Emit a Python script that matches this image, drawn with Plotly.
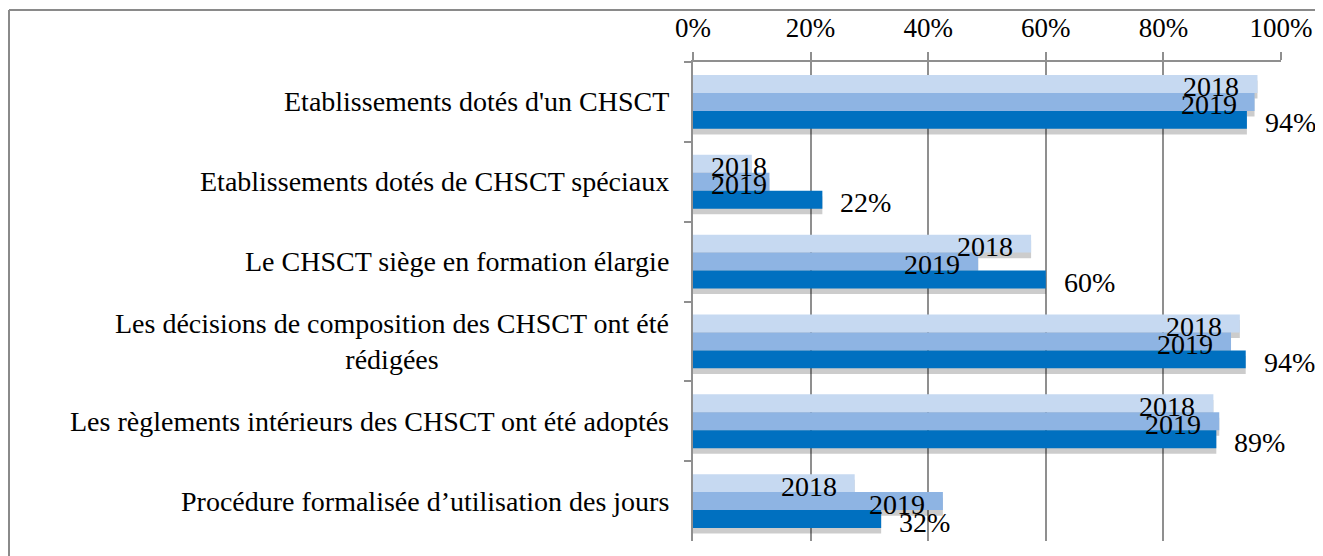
import plotly.graph_objects as go

categories = [
    "Etablissements dotés d'un CHSCT",
    "Etablissements dotés de CHSCT spéciaux",
    "Le CHSCT siège en formation élargie",
    "Les décisions de composition des CHSCT ont été<br>rédigées",
    "Les règlements intérieurs des CHSCT ont été adoptés",
    "Procédure formalisée d’utilisation des jours",
]
series_names = ["2018", "2019", "2020"]
values_2018 = [0.96, 0.10, 0.575, 0.93, 0.885, 0.275]
values_2019 = [0.955, 0.13, 0.485, 0.915, 0.895, 0.425]
values_2020 = [0.942, 0.22, 0.60, 0.94, 0.89, 0.32]
tick_vals = [0, 0.2, 0.4, 0.6, 0.8, 1.0]
tick_text = ["0%", "20%", "40%", "60%", "80%", "100%"]

all_values = [values_2018, values_2019, values_2020]
colors = ["#C6D9F1", "#8EB4E3", "#0070C0"]

FONT = "Liberation Serif"
LABEL_SIZE = 28
BAR_W = 0.225
offsets = [-0.3375, -0.1125, 0.1125]
SHADOW_SHIFT = 0.07

fig = go.Figure()

# shadows
for vals, off in zip(all_values, offsets):
    fig.add_trace(go.Bar(
        x=vals, y=categories, orientation="h",
        width=BAR_W, offset=off + SHADOW_SHIFT,
        marker=dict(color="rgba(0,0,0,0.20)", line=dict(width=0)),
        showlegend=False, hoverinfo="skip",
    ))

for name, vals, off, col in zip(series_names, all_values, offsets, colors):
    fig.add_trace(go.Bar(
        x=vals, y=categories, orientation="h", name=name,
        width=BAR_W, offset=off,
        marker=dict(color=col, line=dict(width=0)),
        showlegend=False,
    ))

# layout geometry (page has an 8px body margin)
W, H = 1315, 548
L, T = 685, 54
pw, ph = 588, 479
R, B = W - L - pw, H - T - ph

# data labels
LABEL_W = 57   # approx. pixel width of a "2018" label
PAD = 16
px_band = ph / len(categories)
for i, (name, vals, off) in enumerate(zip(series_names, all_values, offsets)):
    center_shift = -(off + BAR_W / 2) * px_band - 3
    for cat, v in zip(categories, vals):
        if i < 2:
            if v * pw - PAD - LABEL_W < PAD:
                fig.add_annotation(x=0, y=cat, text=name, showarrow=False,
                                   xanchor="left", xshift=PAD, yshift=center_shift,
                                   font=dict(family=FONT, size=LABEL_SIZE, color="black"))
            else:
                fig.add_annotation(x=v, y=cat, text=name, showarrow=False,
                                   xanchor="right", xshift=-PAD, yshift=center_shift,
                                   font=dict(family=FONT, size=LABEL_SIZE, color="black"))
        else:
            fig.add_annotation(x=v, y=cat, text=f"{round(v*100)}%", showarrow=False,
                               xanchor="left", xshift=PAD, yshift=center_shift,
                               font=dict(family=FONT, size=LABEL_SIZE, color="black"))

# category labels
for cat in categories:
    fig.add_annotation(x=0, xref="paper", y=cat, yref="y", text=cat, showarrow=False,
                       xanchor="right", xshift=-22, align="center",
                       font=dict(family=FONT, size=LABEL_SIZE, color="black"))

def px(xp):
    return (xp - L) / pw
def py(yp):
    return (T + ph - yp) / ph

# outer border (top and left)
fig.add_shape(type="line", xref="paper", yref="paper", x0=px(1), x1=px(W), y0=py(2), y1=py(2),
              line=dict(color="#8a8a8a", width=2))
fig.add_shape(type="line", xref="paper", yref="paper", x0=px(1), x1=px(1), y0=py(2), y1=py(H),
              line=dict(color="#8a8a8a", width=2))

fig.update_layout(
    width=W, height=H,
    margin=dict(l=L, r=R, t=T, b=B, autoexpand=False),
    barmode="overlay",
    plot_bgcolor="white", paper_bgcolor="white",
    font=dict(family=FONT, size=LABEL_SIZE, color="black"),
    xaxis=dict(side="top", range=[0, 1], tickvals=tick_vals, ticktext=tick_text,
               automargin=False,
               showgrid=True, gridcolor="#8f8f8f", gridwidth=2,
               ticks="outside", ticklen=8, tickcolor="#8f8f8f", tickwidth=2,
               ticklabelstandoff=4,
               showline=True, linecolor="#8f8f8f", linewidth=2, zeroline=False,
               tickfont=dict(family=FONT, size=27, color="black")),
    yaxis=dict(autorange="reversed", showticklabels=False, showgrid=False,
               automargin=False,
               tickson="boundaries", ticks="outside", ticklen=7,
               tickcolor="#8f8f8f", tickwidth=2,
               showline=True, linecolor="#8f8f8f", linewidth=2, zeroline=False),
)

fig.write_html("out.html")
